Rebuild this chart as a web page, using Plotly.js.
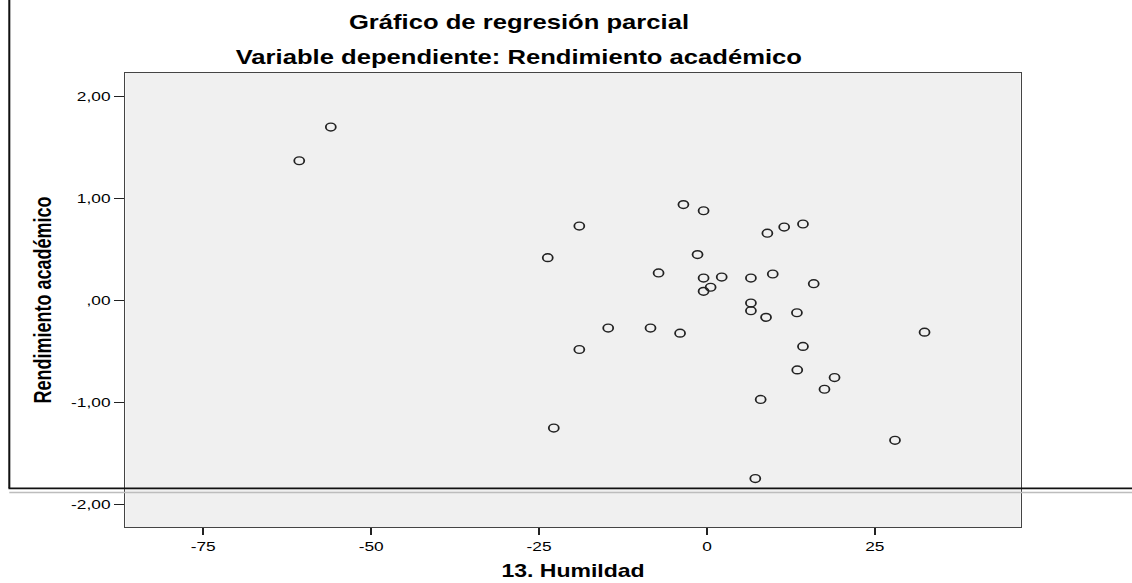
<!DOCTYPE html>
<html><head><meta charset="utf-8">
<script src="https://cdn.plot.ly/plotly-3.0.1.min.js"></script>
<style>
html,body{margin:0;padding:0;background:#fff;overflow:hidden;width:1132px;height:583px}
#chart{width:884px;height:583px;transform:scaleX(1.28054);transform-origin:0 0;}
</style></head><body><div id="chart"></div>
<script>
// 13. Humildad (partial residual x) and Rendimiento académico (partial residual y)
const humildad = [-60.7, -56.0, -19.0, -23.7, -3.5, -0.5, -7.2, -1.4, -0.5, 2.2, 0.55, -0.5,
  9.0, 11.5, 14.3, 6.55, 9.8, 15.9, 6.55, 6.55, 8.8, 13.4, -14.7, -8.4, -4.0, -19.0,
  14.3, 13.45, 19.0, 17.5, 8.0, 32.4, -22.8, 28.0, 7.2];
const rendimiento = [1.37, 1.70, 0.73, 0.42, 0.94, 0.88, 0.27, 0.45, 0.22, 0.23, 0.13, 0.09,
  0.66, 0.72, 0.75, 0.22, 0.26, 0.165, -0.025, -0.10, -0.165, -0.12, -0.27, -0.27, -0.32, -0.48,
  -0.45, -0.68, -0.755, -0.87, -0.97, -0.31, -1.25, -1.37, -1.745];
const xTickVals = [-75, -50, -25, 0, 25];
const xTickText = ['-75', '-50', '-25', '0', '25'];
const yTickVals = [-2, -1, 0, 1, 2];
const yTickText = ['-2,00', '-1,00', ',00', '1,00', '2,00'];
const titleLine1 = 'Gráfico de regresión parcial';
const titleLine2 = 'Variable dependiente: Rendimiento académico';
const xTitle = '13. Humildad';
const yTitle = 'Rendimiento académico';

const FONT = 'Liberation Sans, Arial, sans-serif';
const W = 884, H = 583, S = 1132 / 884;
const M = {l: 98, r: 87, t: 73, b: 56};
const pw = W - M.l - M.r, ph = H - M.t - M.b;
// convert screen pixels (after horizontal stretch) to paper coords
const px = v => (v / S - M.l) / pw;
const py = v => (H - M.b - v) / ph;

const trace = {
  type: 'scatter', mode: 'markers', x: humildad, y: rendimiento,
  marker: {symbol: 'circle-open', size: 7.8, color: '#222', line: {width: 1.4}},
  hoverinfo: 'x+y', showlegend: false
};

const layout = {
  width: W, height: H, margin: M,
  paper_bgcolor: '#ffffff', plot_bgcolor: '#f0f0f0',
  font: {family: FONT, color: '#000'},
  showlegend: false,
  title: {text: titleLine1, font: {family: FONT, size: 20, color: '#000', weight: 'bold'},
          x: px(519), xref: 'paper', xanchor: 'center', y: 1 - 22.5 / H, yref: 'container', yanchor: 'middle'},
  xaxis: {range: [-86.57, 46.7], tickvals: xTickVals, ticktext: xTickText,
          showgrid: false, zeroline: false, ticks: 'outside', ticklen: 7, tickwidth: 1.3, tickcolor: '#222',
          showline: true, mirror: true, linecolor: '#444', linewidth: 1,
          tickfont: {family: FONT, size: 13.5, color: '#000'},
          title: {text: xTitle, font: {family: FONT, size: 18, color: '#000', weight: 'bold'}, standoff: 11}},
  yaxis: {range: [-2.22, 2.23], tickvals: yTickVals, ticktext: yTickText,
          showgrid: false, zeroline: false, ticks: 'outside', ticklen: 8, tickwidth: 1.3, tickcolor: '#222',
          showline: true, mirror: true, linecolor: '#444', linewidth: 1,
          tickfont: {family: FONT, size: 13.5, color: '#000'},
          title: {text: yTitle, font: {family: FONT, size: 18, color: '#000', weight: 'bold'}, standoff: 10}},
  annotations: [
    {text: titleLine2, xref: 'paper', yref: 'paper', x: px(519), y: py(57), xanchor: 'center', yanchor: 'middle',
     showarrow: false, font: {family: FONT, size: 20, color: '#000', weight: 'bold'}}
  ],
  shapes: [
    {type: 'line', xref: 'paper', yref: 'paper', x0: px(9.3), x1: px(9.3), y0: py(0), y1: py(488.3),
     line: {color: '#111', width: 1.6}, layer: 'above'},
    {type: 'line', xref: 'paper', yref: 'paper', x0: px(9.3), x1: px(1132), y0: py(492.5), y1: py(492.5),
     line: {color: '#bdbdbd', width: 1.6}, layer: 'above'},
    {type: 'line', xref: 'paper', yref: 'paper', x0: px(8.5), x1: px(1132), y0: py(488.3), y1: py(488.3),
     line: {color: '#111', width: 1.8}, layer: 'above'}
  ]
};

Plotly.newPlot('chart', [trace], layout, {displayModeBar: false, staticPlot: true});
</script>
</body></html>
